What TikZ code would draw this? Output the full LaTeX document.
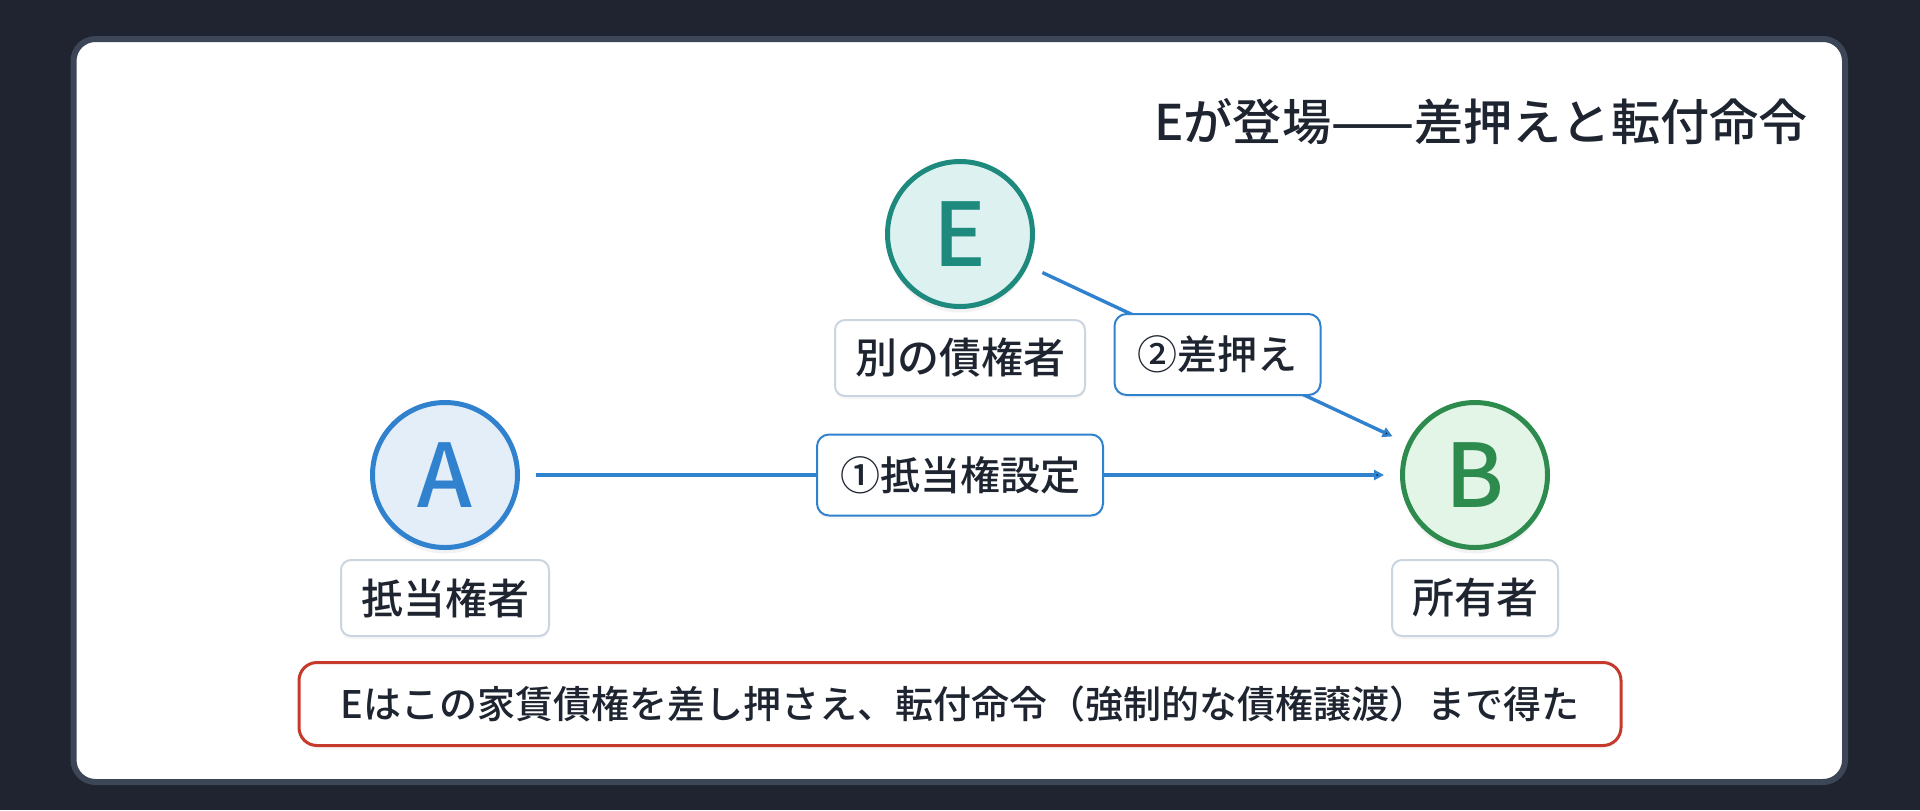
\documentclass[tikz,border=0pt]{standalone}
\usepackage{fontspec}
\setmainfont{Noto Sans CJK JP Medium}
\usepackage{tikz}
\usetikzlibrary{arrows.meta,
  shadows
}
\definecolor{bgdark}{HTML}{1F2430}
\definecolor{cardedge}{HTML}{3C4656}
\definecolor{ink}{HTML}{1E2530}
\definecolor{ablue}{HTML}{3182CE}
\definecolor{afill}{HTML}{E4EEF9}
\definecolor{eteal}{HTML}{1E8A7E}
\definecolor{efill}{HTML}{DDF2F0}
\definecolor{bgreen}{HTML}{2E8B4E}
\definecolor{bfill}{HTML}{E3F5E6}
\definecolor{tagedge}{HTML}{CBD5E0}
\definecolor{notered}{HTML}{C53A2A}

\begin{document}
\begin{tikzpicture}[x=0.5pt, y=-0.5pt,
  party/.style={circle, line width=2.5pt, minimum size=72.5pt, inner sep=0pt,
    font=\fontsize{44}{44}\selectfont,
    drop shadow={shadow xshift=0pt, shadow yshift=-3pt, opacity=0.10}},
  role/.style={draw=tagedge, fill=white, line width=1pt, rounded corners=5pt,
    minimum height=38pt, inner xsep=10pt, text=ink, font=\fontsize{21}{21}\selectfont,
    drop shadow={shadow xshift=0pt, shadow yshift=-1.5pt, opacity=0.06}},
  deal/.style={draw=ablue, fill=white, line width=1pt, rounded corners=6pt,
    minimum height=40.5pt, inner xsep=11.5pt, text=ink, font=\fontsize{20}{20}\selectfont,
    drop shadow={shadow xshift=0pt, shadow yshift=-1.5pt, opacity=0.06}},
  >={Triangle[length=5pt, width=5pt]}]

  \useasboundingbox[fill=bgdark] (0,0) rectangle (1920,810);
  \draw[cardedge, line width=3pt, fill=white, rounded corners=11pt]
    (73.5,39) rectangle (1845,782);

  \node[anchor=east, text=ink, font=\fontsize{24.6}{24.6}\selectfont] (title) at (1815,122)
    {Eが登場——差押えと転付命令};

  \node[party, draw=eteal,  fill=efill, text=eteal]  (e) at ( 960,234) {E};
  \node[party, draw=ablue,  fill=afill, text=ablue]  (a) at ( 445,475) {A};
  \node[party, draw=bgreen, fill=bfill, text=bgreen] (b) at (1475,475) {B};

  \node[role] (eRole) at ( 960,358) {別の債権者};
  \node[role] (aRole) at ( 445,598) {抵当権者};
  \node[role] (bRole) at (1475,598) {所有者};

  \path[->, draw=ablue, line width=1.7pt, shorten <=8pt, shorten >=8pt]
    (a) edge node[deal] {①抵当権設定} (b)
    (e) edge node[deal] {②差押え} (b) ;

  \node[draw=notered, fill=white, line width=1.5pt, rounded corners=9pt,
    minimum width=661pt, minimum height=41.5pt, text=ink,
    font=\fontsize{19}{19}\selectfont,
    drop shadow={shadow xshift=0pt, shadow yshift=-2pt, opacity=0.06}] (note) at (960,704)
    {Eはこの家賃債権を差し押さえ、転付命令（強制的な債権譲渡）まで得た};

\end{tikzpicture}
\end{document}
